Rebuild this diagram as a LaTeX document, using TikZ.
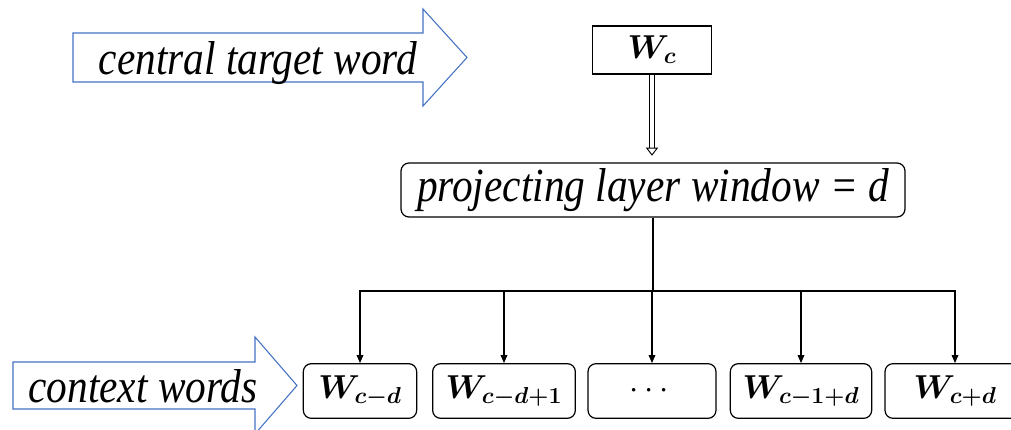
\documentclass[tikz,border=0pt]{standalone}
\usepackage{fontspec}
\setmainfont{Liberation Serif}
\usepackage{amsmath}
\usetikzlibrary{arrows.meta}

\definecolor{arrowblue}{RGB}{68,114,196}

\newcommand{\tall}[1]{\scalebox{1}[1.15]{#1}}

\tikzset{
  wordbox/.style={draw, rounded corners=6pt, line width=0.9pt, inner sep=0pt,
    minimum height=41pt, font=\fontsize{23}{26}\selectfont},
  bluearrow/.style={draw=arrowblue, line width=0.8pt},
  tagtext/.style={font=\fontsize{31}{36}\selectfont\itshape, anchor=base, inner sep=0pt},
  feed/.style={line width=0.9pt, -{Triangle[length=6pt,width=5pt]}},
}

\begin{document}
\begin{tikzpicture}[x=0.75pt, y=-0.75pt]
    \useasboundingbox (0,0) rectangle (1011,429) ;
    % blue arrows
    \draw[bluearrow] (73,33) -- (423,33) -- (423,9) -- (467,57.5) -- (423,106) -- (423,82) -- (73,82) -- cycle ;
    \node[tagtext] (target) at (258,74) {\tall{central target word}} ;
    \draw[bluearrow] (13,362) -- (255,362) -- (255,337) -- (297,385.5) -- (255,434) -- (255,409) -- (13,409) -- cycle ;
    \node[tagtext] (context) at (143,402) {\tall{context words}} ;
    % boxes
    \node[draw, line width=0.9pt, minimum width=89pt, minimum height=36pt, inner sep=0pt,
      font=\fontsize{25}{28}\selectfont] (wc) at (652,50) {$\boldsymbol{W_c}$} ;
    \node[draw, rounded corners=6pt, line width=0.9pt, minimum width=378pt, minimum height=40.5pt,
      inner sep=0pt, font=\fontsize{31}{36}\selectfont\itshape] (proj) at (653,190) {\tall{projecting layer window = d}} ;
    \node[wordbox, minimum width=85pt] (cd) at (360,391) {$\boldsymbol{W_{c-d}}$} ;
    \node[wordbox, minimum width=107pt] (cdp) at (504,391) {$\boldsymbol{W_{c-d+1}}$} ;
    \node[wordbox, minimum width=96pt] (dots) at (652,391) {$\cdots$} ;
    \node[wordbox, minimum width=106pt] (cmd) at (801,391) {$\boldsymbol{W_{c-1+d}}$} ;
    \node[wordbox, minimum width=105pt] (cpd) at (955,391) {$\boldsymbol{W_{c+d}}$} ;
    % connectors
    \draw[double, double distance=2.5pt, line width=0.7pt, shorten >=5pt,
      -{Triangle[open,length=6pt,width=9pt]}] (wc.south) -- (wc.south |- proj.north) ;
    \coordinate (bus) at (653,291) ;
    \draw[line width=0.9pt] (proj) -- (bus) ;
    \foreach \w in {cd, cdp, dots, cmd, cpd}
      \draw[feed] (bus) -| (\w.north) ;
\end{tikzpicture}
\end{document}
